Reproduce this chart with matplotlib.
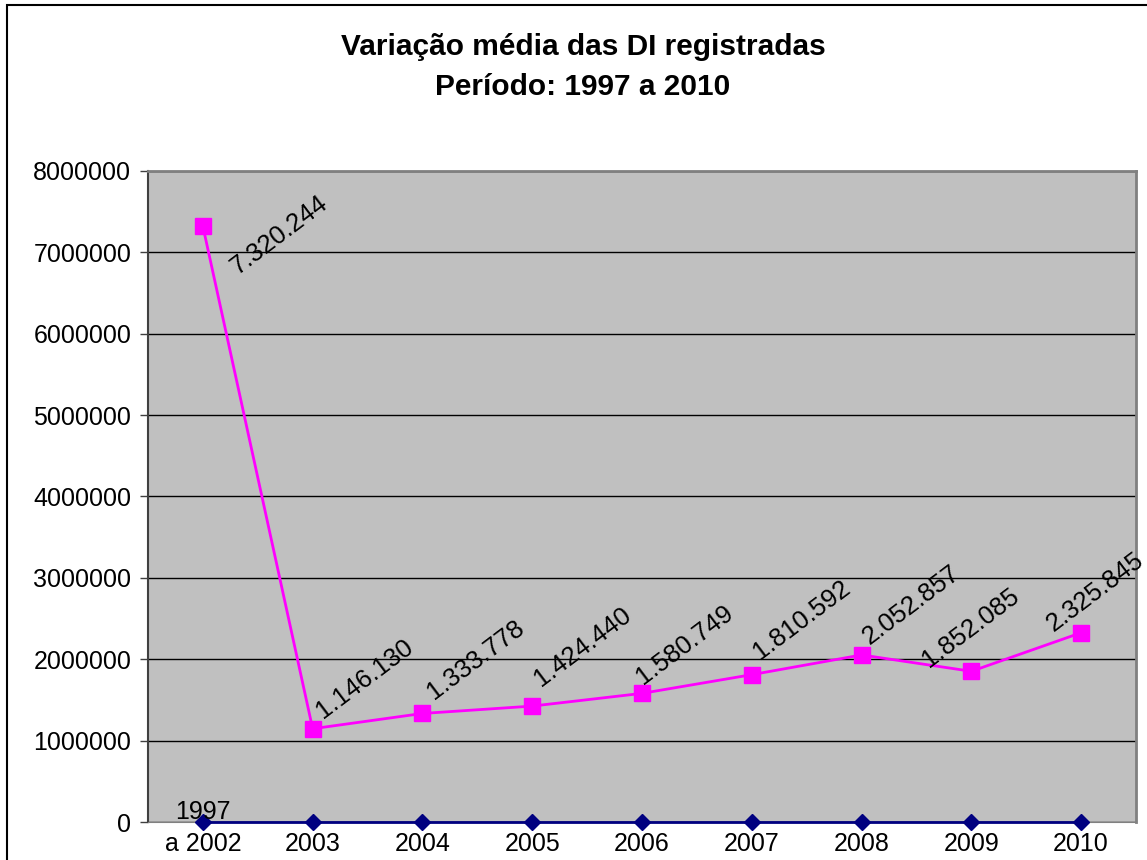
import matplotlib.pyplot as plt
from matplotlib.patches import Rectangle

plt.rcParams['font.family'] = ['Liberation Sans', 'DejaVu Sans']

categories = ["1997\na 2002", "2003", "2004", "2005", "2006", "2007", "2008", "2009", "2010"]
media_di = [7320244, 1146130, 1333778, 1424440, 1580749, 1810592, 2052857, 1852085, 2325845]
base_series = [0, 0, 0, 0, 0, 0, 0, 0, 0]
value_labels = ["7.320.244", "1.146.130", "1.333.778", "1.424.440", "1.580.749",
                "1.810.592", "2.052.857", "1.852.085", "2.325.845"]

# label offsets in pixels (layout only)
label_offsets = [(76, -9), (52, 50), (53, 54), (50, 59), (43, 49),
                 (50, 55), (50, 50), (-1, 43), (14, 41)]

FS = 18

fig = plt.figure(figsize=(11.47, 8.6), dpi=100)
fig.patches.append(Rectangle((6.5 / 1147, -0.1), 1.2, 1.1 - 5.5 / 860,
                             transform=fig.transFigure, fill=False,
                             edgecolor='black', linewidth=1.5))

ax = fig.add_axes([148 / 1147, 38 / 860, 988 / 1147, 651 / 860])
ax.set_facecolor('#C0C0C0')
x = list(range(len(categories)))

ax.plot(x, media_di, color='#FF00FF', linewidth=2, marker='s', markersize=11,
        markerfacecolor='#FF00FF', markeredgecolor='#FF00FF', zorder=3)
ax.plot(x, base_series, color='#000080', linewidth=2, marker='D', markersize=8,
        markerfacecolor='#000080', zorder=3, clip_on=False)

for xi, v, lab, off in zip(x, media_di, value_labels, label_offsets):
    ax.annotate(lab, (xi, v), xytext=off, textcoords='offset pixels',
                ha='center', va='center', rotation=37, fontsize=18.5, color='black')

ax.set_xlim(-0.5, len(categories) - 0.5)
ax.set_ylim(0, 8000000)
ax.set_yticks(range(0, 8000001, 1000000))
ax.set_yticklabels([str(v) for v in range(0, 8000001, 1000000)])
ax.yaxis.grid(True, color='black', linewidth=1)
ax.set_axisbelow(True)

ax.set_xticks(x)
ax.set_xticklabels(["a 2002"] + categories[1:])
ax.text(0, -0.003, "1997", transform=ax.get_xaxis_transform(), ha='center', va='bottom',
        fontsize=FS)
ax.tick_params(axis='x', length=0, pad=7, labelsize=FS)
ax.tick_params(axis='y', length=6, width=1, color='#404040', pad=6, labelsize=FS)

for s in ['top', 'right']:
    ax.spines[s].set_color('#808080')
    ax.spines[s].set_linewidth(2)
ax.spines['left'].set_color('#404040')
ax.spines['left'].set_linewidth(1.5)
ax.spines['bottom'].set_color('#808080')

fig.text(583 / 1147, 1 - 47 / 860, "Variação média das DI registradas", ha='center', va='center',
         fontsize=21.5, fontweight='bold')
fig.text(583 / 1147, 1 - 87 / 860, "Período: 1997 a 2010", ha='center', va='center',
         fontsize=21.5, fontweight='bold')

fig.savefig("out.png", dpi=100)
